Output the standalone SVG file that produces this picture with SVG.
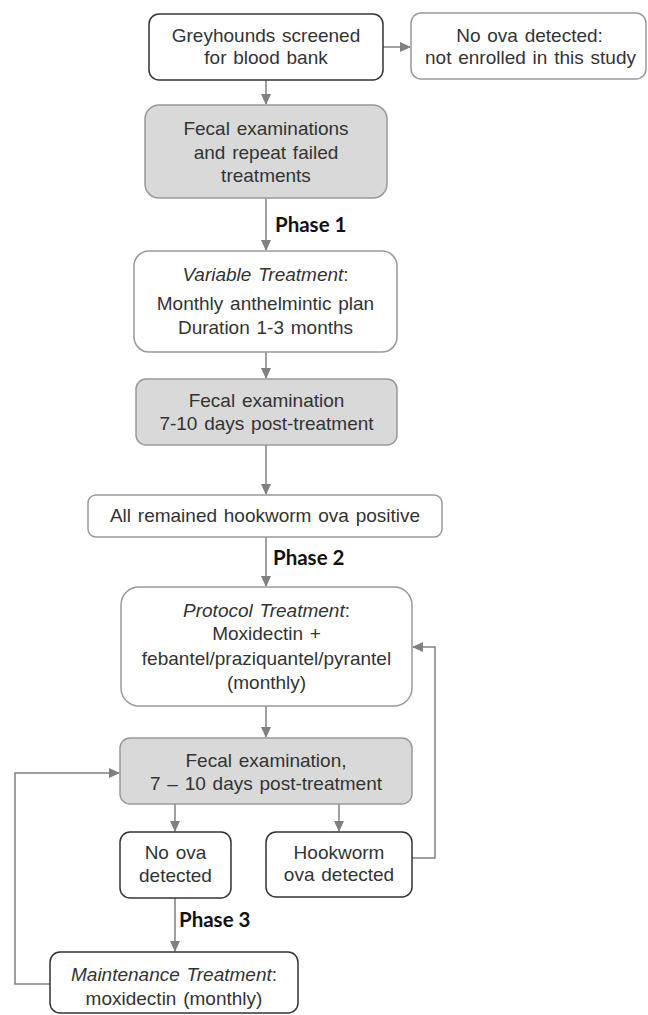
<svg xmlns="http://www.w3.org/2000/svg" width="648" height="1015" viewBox="0 0 648 1015">
  <style>
    .t { font-family: "Liberation Sans", Arial, sans-serif; font-size: 19px; fill: #333333; text-anchor: middle; word-spacing: 1.5px; }
    .i { font-style: italic; }
    .ph { font-family: Lato, "Open Sans", sans-serif; font-weight: bold; font-size: 20.5px; fill: #111111; }
    .dark { fill: #ffffff; stroke: #333333; stroke-width: 1.5; }
    .light { fill: #ffffff; stroke: #999999; stroke-width: 1.5; }
    .grey { fill: #d9d9d9; stroke: #999999; stroke-width: 1.5; }
    .c { fill: none; stroke: #808080; stroke-width: 1.5; }
  </style>
  <defs>
    <marker id="ah" markerWidth="11" markerHeight="10" refX="10" refY="5" orient="auto" markerUnits="userSpaceOnUse">
      <path d="M0,0 L11,5 L0,10 Z" fill="#808080"/>
    </marker>
  </defs>
  <rect width="648" height="1015" fill="#ffffff"/>

  <g id="connectors">
    <line class="c" x1="383" y1="47" x2="410" y2="47" marker-end="url(#ah)"/>
    <line class="c" x1="266" y1="80" x2="266" y2="104" marker-end="url(#ah)"/>
    <line class="c" x1="266" y1="198" x2="266" y2="250" marker-end="url(#ah)"/>
    <line class="c" x1="266" y1="352" x2="266" y2="378" marker-end="url(#ah)"/>
    <line class="c" x1="266" y1="445" x2="266" y2="494" marker-end="url(#ah)"/>
    <line class="c" x1="266" y1="537" x2="266" y2="586" marker-end="url(#ah)"/>
    <line class="c" x1="266" y1="706" x2="266" y2="737" marker-end="url(#ah)"/>
    <line class="c" x1="175" y1="804" x2="175" y2="831" marker-end="url(#ah)"/>
    <line class="c" x1="339" y1="804" x2="339" y2="831" marker-end="url(#ah)"/>
    <line class="c" x1="175" y1="898" x2="175" y2="951" marker-end="url(#ah)"/>
    <polyline class="c" points="412,858 435,858 435,647 413,647" marker-end="url(#ah)"/>
    <polyline class="c" points="50,984 15,984 15,773 119,773" marker-end="url(#ah)"/>
    <text class="ph" x="275" y="232">Phase 1</text>
    <text class="ph" x="273" y="565">Phase 2</text>
    <text class="ph" x="179" y="927">Phase 3</text>
  </g>

  <g id="n-greyhounds">
    <rect class="dark" x="149" y="14" width="234" height="66" rx="10"/>
    <text class="t" x="266" y="42">Greyhounds screened</text>
    <text class="t" x="266" y="64">for blood bank</text>
  </g>

  <g id="n-noova-notenrolled">
    <rect class="light" x="411" y="13" width="235" height="66" rx="10"/>
    <text class="t" x="529.5" y="42">No ova detected:</text>
    <text class="t" x="530.5" y="64">not enrolled in this study</text>
  </g>

  <g id="n-fecal1">
    <rect class="grey" x="145" y="105" width="242" height="93" rx="14"/>
    <text class="t" x="266" y="135">Fecal examinations</text>
    <text class="t" x="266" y="159">and repeat failed</text>
    <text class="t" x="266" y="182">treatments</text>
  </g>

  <g id="n-variable">
    <rect class="light" x="134" y="251" width="263" height="101" rx="15"/>
    <text class="t" x="265.5" y="281"><tspan class="i">Variable Treatment</tspan>:</text>
    <text class="t" x="265.5" y="310">Monthly anthelmintic plan</text>
    <text class="t" x="265.5" y="334">Duration 1-3 months</text>
  </g>

  <g id="n-fecal2">
    <rect class="grey" x="136" y="379" width="261" height="66" rx="10"/>
    <text class="t" x="266.5" y="407">Fecal examination</text>
    <text class="t" x="266.5" y="430">7-10 days post-treatment</text>
  </g>

  <g id="n-allpositive">
    <rect class="light" x="88" y="495" width="354" height="42" rx="8"/>
    <text class="t" x="265" y="522">All remained hookworm ova positive</text>
  </g>

  <g id="n-protocol">
    <rect class="light" x="121" y="587" width="291" height="119" rx="18"/>
    <text class="t" x="266.5" y="617"><tspan class="i">Protocol Treatment</tspan>:</text>
    <text class="t" x="266.5" y="640">Moxidectin +</text>
    <text class="t" x="266.5" y="665">febantel/praziquantel/pyrantel</text>
    <text class="t" x="266.5" y="689">(monthly)</text>
  </g>

  <g id="n-fecal3">
    <rect class="grey" x="120" y="738" width="292" height="66" rx="10"/>
    <text class="t" x="266" y="767">Fecal examination,</text>
    <text class="t" x="266" y="790">7 – 10 days post-treatment</text>
  </g>

  <g id="n-noova">
    <rect class="dark" x="120" y="832" width="111" height="66" rx="10"/>
    <text class="t" x="175.5" y="859">No ova</text>
    <text class="t" x="175.5" y="882">detected</text>
  </g>

  <g id="n-hookworm">
    <rect class="dark" x="266" y="832" width="146" height="65" rx="10"/>
    <text class="t" x="339" y="859">Hookworm</text>
    <text class="t" x="339" y="881">ova detected</text>
  </g>

  <g id="n-maintenance">
    <rect class="dark" x="50" y="952" width="248" height="61" rx="10"/>
    <text class="t" x="174" y="981"><tspan class="i">Maintenance Treatment</tspan>:</text>
    <text class="t" x="174" y="1005">moxidectin (monthly)</text>
  </g>
</svg>
